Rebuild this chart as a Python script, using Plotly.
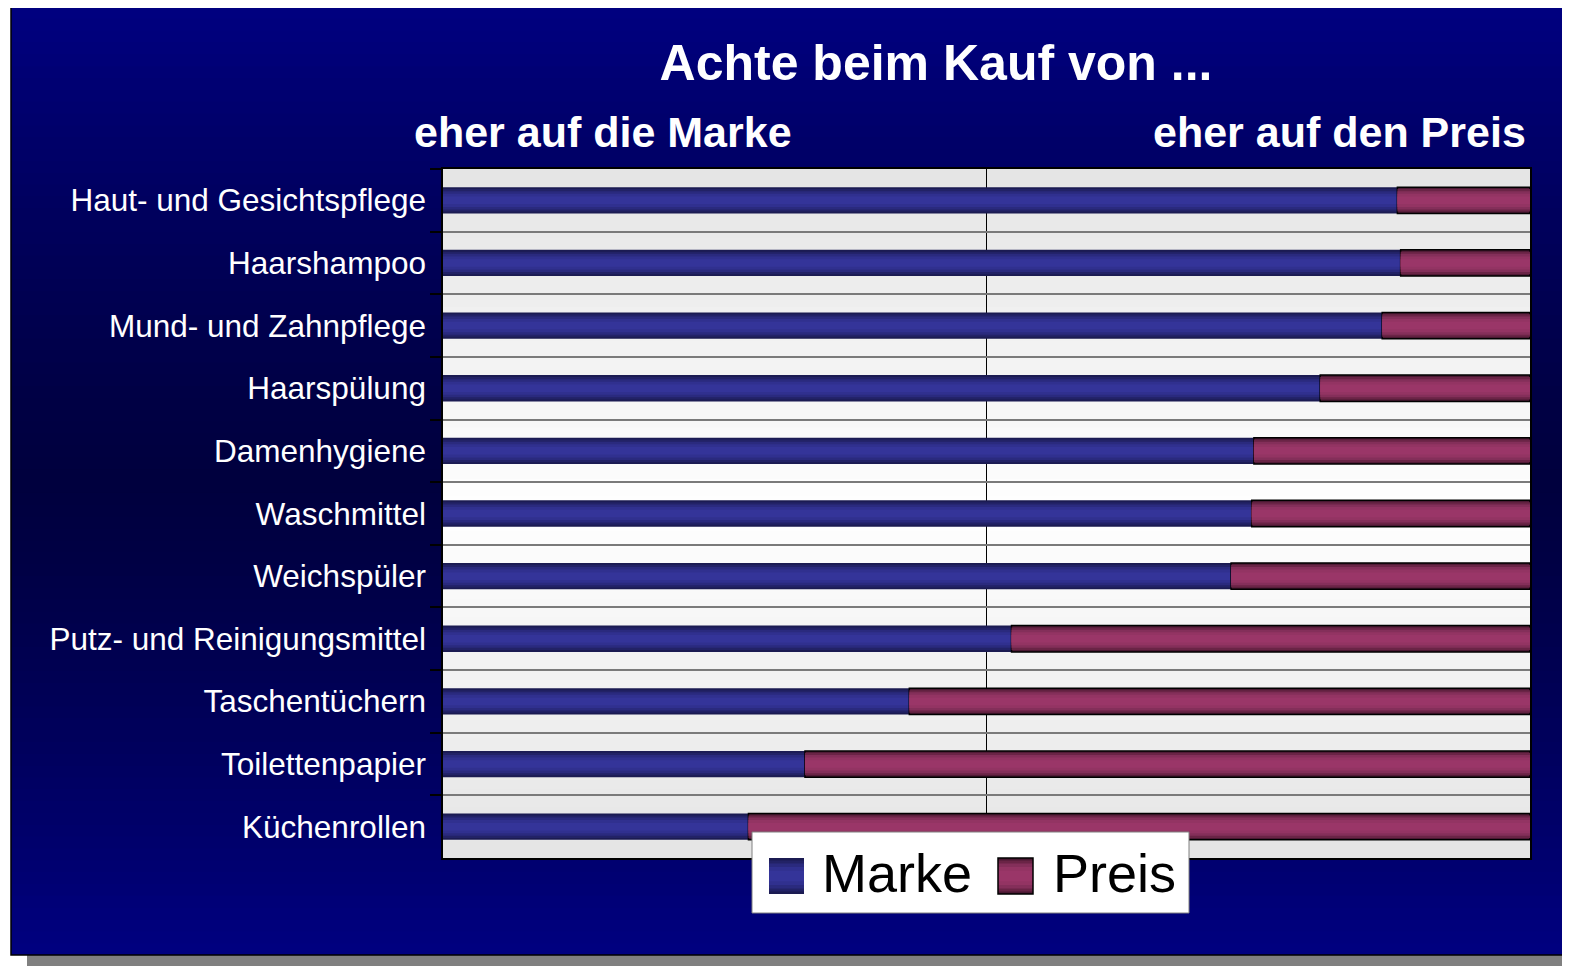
import plotly.graph_objects as go

categories = ["Haut- und Gesichtspflege", "Haarshampoo", "Mund- und Zahnpflege", "Haarspülung",
              "Damenhygiene", "Waschmittel", "Weichspüler", "Putz- und Reinigungsmittel",
              "Taschentüchern", "Toilettenpapier", "Küchenrollen"]
marke = [87.8, 88.1, 86.4, 80.7, 74.6, 74.4, 72.5, 52.3, 42.9, 33.3, 28.1]
preis = [round(100 - m, 1) for m in marke]
series_names = ["Marke", "Preis"]

title_text = "Achte beim Kauf von ..."
left_label = "eher auf die Marke"
right_label = "eher auf den Preis"

W, H = 1570, 967
OFF = 8  # page body margin
PL, PR, PT, PB = 443, 1530, 169, 858  # plot area in screen px


def px(x):
    return (x - PL) / (PR - PL)


def py(y):
    return (PB - y) / (PB - PT)


marke_layers = [(0.42, "#1b1b52"), (0.36, "#222266"), (0.29, "#2a2a7e"), (0.21, "#30308f"), (0.12, "#343499")]
preis_layers = [(0.42, "#4a1832"), (0.36, "#6a2446"), (0.29, "#842f5a"), (0.21, "#933463"), (0.12, "#9a3668")]

shapes = []
# page frame shadow
shapes.append(dict(type="rect", xref="paper", yref="paper", x0=px(27), x1=px(1575), y0=py(966), y1=py(950),
                   fillcolor="#808080", line=dict(width=0), layer="below"))
# dark blue background gradient
n = 80
top, bot = 7, 955
for i in range(n):
    y0 = top + (bot - top) * i / n
    y1 = min(top + (bot - top) * (i + 1) / n + 3, bot)
    t = (i + 0.5) / n
    d = abs(t - 0.5) * 2
    b = 62 + (128 - 62) * (d ** 1.3)
    col = f"rgb(0,0,{int(round(b))})"
    shapes.append(dict(type="rect", xref="paper", yref="paper", x0=px(11), x1=px(1580), y0=py(y1), y1=py(y0),
                       fillcolor=col, line=dict(width=0), layer="below"))
# frame border
shapes.append(dict(type="rect", xref="paper", yref="paper", x0=px(11), x1=px(1582), y0=py(955), y1=py(7),
                   fillcolor="rgba(0,0,0,0)", line=dict(width=1.5, color="black"), layer="below"))
# plot-area grey/white gradient
m = 40
for i in range(m):
    y0 = PT + (PB - PT) * i / m
    y1 = min(PT + (PB - PT) * (i + 1) / m + 3, PB)
    t = (i + 0.5) / m
    d = abs(t - 0.5) * 2
    g = 255 - (255 - 229) * d
    col = f"rgb({int(g)},{int(g)},{int(g)})"
    shapes.append(dict(type="rect", xref="paper", yref="paper", x0=0, x1=1, y0=py(y1), y1=py(y0),
                       fillcolor=col, line=dict(width=0), layer="below"))

# manual legend (box + gradient squares), drawn above the traces
shapes.append(dict(type="rect", xref="paper", yref="paper", x0=px(752), x1=px(1189), y0=py(913), y1=py(832),
                   fillcolor="white", line=dict(width=1, color="#808080"), layer="above"))
for (sx0, layers, outline) in [(769, marke_layers, None), (998, preis_layers, "black")]:
    sy0, sy1 = 858, 894
    hgt = sy1 - sy0
    for k, (w, c) in enumerate(layers):
        frac = w / layers[0][0]
        cy = (sy0 + sy1) / 2
        shapes.append(dict(type="rect", xref="paper", yref="paper", x0=px(sx0), x1=px(sx0 + 35),
                           y0=py(cy + hgt * frac / 2), y1=py(cy - hgt * frac / 2),
                           fillcolor=c, line=dict(width=0), layer="above"))
    if outline:
        shapes.append(dict(type="rect", xref="paper", yref="paper", x0=px(sx0), x1=px(sx0 + 35),
                           y0=py(sy1), y1=py(sy0), fillcolor="rgba(0,0,0,0)",
                           line=dict(width=1.5, color=outline), layer="above"))

fig = go.Figure()

for w, c in marke_layers:
    fig.add_trace(go.Bar(y=categories, x=marke, base=[0] * len(marke), orientation="h", width=w,
                         marker=dict(color=c, line=dict(width=0)),
                         name=series_names[0], showlegend=False, hoverinfo="skip"))
for k, (w, c) in enumerate(preis_layers):
    line = dict(width=1.5, color="black") if k == 0 else dict(width=0)
    fig.add_trace(go.Bar(y=categories, x=preis, base=marke, orientation="h", width=w,
                         marker=dict(color=c, line=line),
                         name=series_names[1], showlegend=False, hoverinfo="skip"))

fig.update_layout(
    width=W, height=H,
    margin=dict(l=PL - OFF, r=W - (PR - OFF), t=PT - OFF, b=H - (PB - OFF)),
    paper_bgcolor="white",
    plot_bgcolor="rgba(0,0,0,0)",
    barmode="overlay",
    showlegend=False,
    font=dict(family="Liberation Sans, Arial, sans-serif", color="white"),
    shapes=shapes,
    title=dict(text=f"<b>{title_text}</b>", x=px(936), xref="paper", xanchor="center",
               y=1 - (62 - OFF) / H, yref="container", yanchor="middle",
               font=dict(size=50, color="white", family="Liberation Sans, Arial, sans-serif")),
    annotations=[
        dict(text=f"<b>{left_label}</b>", xref="paper", yref="paper", x=px(603), y=py(132),
             xanchor="center", yanchor="middle", showarrow=False,
             font=dict(size=43, color="white")),
        dict(text=f"<b>{right_label}</b>", xref="paper", yref="paper", x=px(1528), y=py(132),
             xanchor="right", yanchor="middle", showarrow=False,
             font=dict(size=43, color="white")),
        dict(text=series_names[0], xref="paper", yref="paper", x=px(820), y=py(873),
             xanchor="left", yanchor="middle", showarrow=False,
             font=dict(size=54, color="black")),
        dict(text=series_names[1], xref="paper", yref="paper", x=px(1051), y=py(873),
             xanchor="left", yanchor="middle", showarrow=False,
             font=dict(size=54, color="black")),
    ],
)
fig.update_xaxes(range=[0, 100], showticklabels=False, showgrid=True, dtick=50, gridcolor="black",
                 gridwidth=1, zeroline=False, showline=True, linecolor="black", linewidth=1.5, mirror=True,
                 ticks="")
fig.update_yaxes(type="category", categoryorder="array", categoryarray=categories, autorange="reversed",
                 tickson="boundaries", showgrid=True, gridcolor="#7a7a7a", gridwidth=1.5,
                 ticks="outside", ticklen=11, tickcolor="black", tickwidth=1.5,
                 showline=True, linecolor="black", linewidth=1.5, mirror=True,
                 tickfont=dict(size=31.5, color="white"), ticklabelstandoff=9)

fig.write_html("out.html")
